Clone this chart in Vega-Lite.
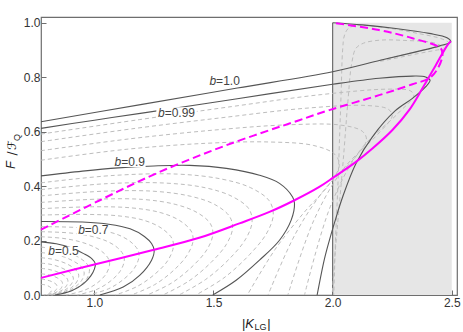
{
"$schema":"https://vega.github.io/schema/vega-lite/v6.json",
"width":416,"height":278,
"autosize":{"type":"none"},
"padding":{"left":41,"top":17,"right":6,"bottom":37},
"background":"white",
"config":{"view":{"stroke":"#6e6e6e","strokeWidth":1.2},"axis":{"domain":false,"grid":false,"title":null,"labelFont":"Liberation Sans","labelFontSize":12,"labelColor":"#333","tickColor":"#6e6e6e","tickSize":-5}},
"datasets":{
"shade":[{"k":2.0,"k2":2.5,"f":0,"f2":1.0}],
"vline":[{"k":2.0,"f":0,"f2":1.0}],
"solid":[
{"c":"b05","i":0,"k":0.776,"f":0.195},{"c":"b05","i":1,"k":0.84,"f":0.188},{"c":"b05","i":2,"k":0.90,"f":0.174},{"c":"b05","i":3,"k":0.955,"f":0.152},{"c":"b05","i":4,"k":0.99,"f":0.133},{"c":"b05","i":5,"k":1.004,"f":0.115},{"c":"b05","i":6,"k":1.0,"f":0.095},{"c":"b05","i":7,"k":0.985,"f":0.07},{"c":"b05","i":8,"k":0.955,"f":0.042},{"c":"b05","i":9,"k":0.905,"f":0.016},{"c":"b05","i":10,"k":0.835,"f":0},
{"c":"b07","i":0,"k":0.776,"f":0.270},{"c":"b07","i":1,"k":0.95,"f":0.268},{"c":"b07","i":2,"k":1.06,"f":0.26},{"c":"b07","i":3,"k":1.15,"f":0.243},{"c":"b07","i":4,"k":1.21,"f":0.215},{"c":"b07","i":5,"k":1.24,"f":0.189},{"c":"b07","i":6,"k":1.251,"f":0.164},{"c":"b07","i":7,"k":1.24,"f":0.128},{"c":"b07","i":8,"k":1.19,"f":0.072},{"c":"b07","i":9,"k":1.121,"f":0.029},{"c":"b07","i":10,"k":1.023,"f":0},
{"c":"b09","i":0,"k":0.776,"f":0.4375},{"c":"b09","i":1,"k":0.95,"f":0.455},{"c":"b09","i":2,"k":1.1,"f":0.467},{"c":"b09","i":3,"k":1.25,"f":0.474},{"c":"b09","i":4,"k":1.4,"f":0.476},{"c":"b09","i":5,"k":1.554,"f":0.465},{"c":"b09","i":6,"k":1.693,"f":0.44},{"c":"b09","i":7,"k":1.777,"f":0.41},{"c":"b09","i":8,"k":1.832,"f":0.36},{"c":"b09","i":9,"k":1.840,"f":0.336},{"c":"b09","i":10,"k":1.826,"f":0.275},{"c":"b09","i":11,"k":1.777,"f":0.201},{"c":"b09","i":12,"k":1.693,"f":0.128},{"c":"b09","i":13,"k":1.595,"f":0.054},{"c":"b09","i":14,"k":1.497,"f":0},
{"c":"b099","i":0,"k":0.776,"f":0.612},{"c":"b099","i":1,"k":1.0,"f":0.642},{"c":"b099","i":2,"k":1.2,"f":0.668},{"c":"b099","i":3,"k":1.6,"f":0.721},{"c":"b099","i":4,"k":2.0,"f":0.774},{"c":"b099","i":5,"k":2.195,"f":0.796},{"c":"b099","i":6,"k":2.335,"f":0.804},{"c":"b099","i":7,"k":2.39,"f":0.801},{"c":"b099","i":8,"k":2.409,"f":0.789},{"c":"b099","i":9,"k":2.391,"f":0.765},{"c":"b099","i":10,"k":2.335,"f":0.722},{"c":"b099","i":11,"k":2.262,"f":0.676},{"c":"b099","i":12,"k":2.167,"f":0.581},{"c":"b099","i":13,"k":2.098,"f":0.483},{"c":"b099","i":14,"k":2.042,"f":0.36},{"c":"b099","i":15,"k":2.007,"f":0.263},{"c":"b099","i":16,"k":1.986,"f":0.2},{"c":"b099","i":17,"k":1.965,"f":0.13},{"c":"b099","i":18,"k":1.935,"f":0},
{"c":"b10","i":0,"k":0.776,"f":0.636},{"c":"b10","i":1,"k":1.2,"f":0.7},{"c":"b10","i":2,"k":1.6,"f":0.76},{"c":"b10","i":3,"k":2.0,"f":0.82},{"c":"b10","i":4,"k":2.2,"f":0.862},{"c":"b10","i":5,"k":2.35,"f":0.893},{"c":"b10","i":6,"k":2.45,"f":0.915},{"c":"b10","i":7,"k":2.496,"f":0.930},{"c":"b10","i":8,"k":2.48,"f":0.945},{"c":"b10","i":9,"k":2.405,"f":0.961},{"c":"b10","i":10,"k":2.265,"f":0.979},{"c":"b10","i":11,"k":2.126,"f":0.992},{"c":"b10","i":12,"k":2.0,"f":1.0}
],
"msol":[
{"i":0,"k":0.776,"f":0.063},{"i":1,"k":1.0,"f":0.112},{"i":2,"k":1.25,"f":0.166},{"i":3,"k":1.44,"f":0.21},{"i":4,"k":1.609,"f":0.263},{"i":5,"k":1.735,"f":0.305},{"i":6,"k":1.840,"f":0.348},{"i":7,"k":1.944,"f":0.397},{"i":8,"k":2.007,"f":0.434},{"i":9,"k":2.098,"f":0.489},{"i":10,"k":2.167,"f":0.538},{"i":11,"k":2.251,"f":0.606},{"i":12,"k":2.321,"f":0.679},{"i":13,"k":2.377,"f":0.759},{"i":14,"k":2.433,"f":0.844},{"i":15,"k":2.482,"f":0.918},{"i":16,"k":2.496,"f":0.932}
],
"mdash":[
{"i":0,"k":0.776,"f":0.240},{"i":1,"k":1.023,"f":0.348},{"i":2,"k":1.274,"f":0.452},{"i":3,"k":1.554,"f":0.550},{"i":4,"k":1.860,"f":0.642},{"i":5,"k":1.986,"f":0.679},{"i":6,"k":2.195,"f":0.734},{"i":7,"k":2.335,"f":0.774},{"i":8,"k":2.405,"f":0.796},{"i":9,"k":2.44,"f":0.83},{"i":10,"k":2.461,"f":0.881},{"i":11,"k":2.454,"f":0.906},{"i":12,"k":2.335,"f":0.943},{"i":13,"k":2.195,"f":0.973},{"i":14,"k":2.0,"f":1.0}
],
"dash":[
{"c":"A9","i":0,"k":0.776,"f":0.176},{"c":"A9","i":1,"k":0.834,"f":0.169},{"c":"A9","i":2,"k":0.888,"f":0.157},{"c":"A9","i":3,"k":0.933,"f":0.139},{"c":"A9","i":4,"k":0.964,"f":0.119},{"c":"A9","i":5,"k":0.978,"f":0.101},{"c":"A9","i":6,"k":0.979,"f":0.086},{"c":"A9","i":7,"k":0.969,"f":0.061},{"c":"A9","i":8,"k":0.942,"f":0.036},{"c":"A9","i":9,"k":0.897,"f":0.014},{"c":"A9","i":10,"k":0.829,"f":0},
{"c":"A8","i":0,"k":0.776,"f":0.156},{"c":"A8","i":1,"k":0.827,"f":0.150},{"c":"A8","i":2,"k":0.875,"f":0.139},{"c":"A8","i":3,"k":0.915,"f":0.123},{"c":"A8","i":4,"k":0.943,"f":0.106},{"c":"A8","i":5,"k":0.955,"f":0.090},{"c":"A8","i":6,"k":0.957,"f":0.076},{"c":"A8","i":7,"k":0.947,"f":0.054},{"c":"A8","i":8,"k":0.923,"f":0.032},{"c":"A8","i":9,"k":0.883,"f":0.012},{"c":"A8","i":10,"k":0.823,"f":0},
{"c":"A7","i":0,"k":0.776,"f":0.137},{"c":"A7","i":1,"k":0.821,"f":0.132},{"c":"A7","i":2,"k":0.863,"f":0.122},{"c":"A7","i":3,"k":0.898,"f":0.108},{"c":"A7","i":4,"k":0.922,"f":0.092},{"c":"A7","i":5,"k":0.933,"f":0.078},{"c":"A7","i":6,"k":0.934,"f":0.067},{"c":"A7","i":7,"k":0.926,"f":0.048},{"c":"A7","i":8,"k":0.905,"f":0.028},{"c":"A7","i":9,"k":0.870,"f":0.011},{"c":"A7","i":10,"k":0.817,"f":0},
{"c":"A6","i":0,"k":0.776,"f":0.117},{"c":"A6","i":1,"k":0.814,"f":0.113},{"c":"A6","i":2,"k":0.850,"f":0.104},{"c":"A6","i":3,"k":0.880,"f":0.092},{"c":"A6","i":4,"k":0.901,"f":0.079},{"c":"A6","i":5,"k":0.910,"f":0.067},{"c":"A6","i":6,"k":0.912,"f":0.057},{"c":"A6","i":7,"k":0.904,"f":0.041},{"c":"A6","i":8,"k":0.886,"f":0.024},{"c":"A6","i":9,"k":0.856,"f":0.009},{"c":"A6","i":10,"k":0.811,"f":0},
{"c":"A5","i":0,"k":0.776,"f":0.098},{"c":"A5","i":1,"k":0.808,"f":0.094},{"c":"A5","i":2,"k":0.838,"f":0.087},{"c":"A5","i":3,"k":0.863,"f":0.077},{"c":"A5","i":4,"k":0.881,"f":0.066},{"c":"A5","i":5,"k":0.888,"f":0.056},{"c":"A5","i":6,"k":0.889,"f":0.048},{"c":"A5","i":7,"k":0.883,"f":0.034},{"c":"A5","i":8,"k":0.868,"f":0.020},{"c":"A5","i":9,"k":0.843,"f":0.008},{"c":"A5","i":10,"k":0.806,"f":0},
{"c":"A4","i":0,"k":0.776,"f":0.078},{"c":"A4","i":1,"k":0.802,"f":0.075},{"c":"A4","i":2,"k":0.826,"f":0.070},{"c":"A4","i":3,"k":0.846,"f":0.062},{"c":"A4","i":4,"k":0.860,"f":0.053},{"c":"A4","i":5,"k":0.866,"f":0.045},{"c":"A4","i":6,"k":0.866,"f":0.038},{"c":"A4","i":7,"k":0.862,"f":0.027},{"c":"A4","i":8,"k":0.850,"f":0.016},{"c":"A4","i":9,"k":0.830,"f":0.006},{"c":"A4","i":10,"k":0.800,"f":0},
{"c":"A3","i":0,"k":0.776,"f":0.059},{"c":"A3","i":1,"k":0.795,"f":0.056},{"c":"A3","i":2,"k":0.813,"f":0.052},{"c":"A3","i":3,"k":0.828,"f":0.046},{"c":"A3","i":4,"k":0.839,"f":0.040},{"c":"A3","i":5,"k":0.843,"f":0.034},{"c":"A3","i":6,"k":0.844,"f":0.029},{"c":"A3","i":7,"k":0.840,"f":0.020},{"c":"A3","i":8,"k":0.831,"f":0.012},{"c":"A3","i":9,"k":0.816,"f":0.005},{"c":"A3","i":10,"k":0.794,"f":0},
{"c":"A2","i":0,"k":0.776,"f":0.039},{"c":"A2","i":1,"k":0.789,"f":0.038},{"c":"A2","i":2,"k":0.801,"f":0.035},{"c":"A2","i":3,"k":0.811,"f":0.031},{"c":"A2","i":4,"k":0.818,"f":0.026},{"c":"A2","i":5,"k":0.821,"f":0.022},{"c":"A2","i":6,"k":0.821,"f":0.019},{"c":"A2","i":7,"k":0.819,"f":0.014},{"c":"A2","i":8,"k":0.813,"f":0.008},{"c":"A2","i":9,"k":0.803,"f":0.003},{"c":"A2","i":10,"k":0.788,"f":0},
{"c":"B1","i":0,"k":0.776,"f":0.214},{"c":"B1","i":1,"k":0.8675,"f":0.208},{"c":"B1","i":2,"k":0.94,"f":0.1955},{"c":"B1","i":3,"k":1.0,"f":0.176},{"c":"B1","i":4,"k":1.041,"f":0.153},{"c":"B1","i":5,"k":1.061,"f":0.129},{"c":"B1","i":6,"k":1.0635,"f":0.109},{"c":"B1","i":7,"k":1.049,"f":0.077},{"c":"B1","i":8,"k":1.014,"f":0.0455},{"c":"B1","i":9,"k":0.96,"f":0.018},{"c":"B1","i":10,"k":0.882,"f":0},
{"c":"B2","i":0,"k":0.776,"f":0.2325},{"c":"B2","i":1,"k":0.895,"f":0.228},{"c":"B2","i":2,"k":0.98,"f":0.217},{"c":"B2","i":3,"k":1.05,"f":0.1985},{"c":"B2","i":4,"k":1.0975,"f":0.1735},{"c":"B2","i":5,"k":1.1225,"f":0.146},{"c":"B2","i":6,"k":1.125,"f":0.1225},{"c":"B2","i":7,"k":1.1075,"f":0.0865},{"c":"B2","i":8,"k":1.0675,"f":0.051},{"c":"B2","i":9,"k":1.01,"f":0.0205},{"c":"B2","i":10,"k":0.929,"f":0},
{"c":"B3","i":0,"k":0.776,"f":0.251},{"c":"B3","i":1,"k":0.9225,"f":0.248},{"c":"B3","i":2,"k":1.02,"f":0.2385},{"c":"B3","i":3,"k":1.10,"f":0.221},{"c":"B3","i":4,"k":1.154,"f":0.194},{"c":"B3","i":5,"k":1.184,"f":0.163},{"c":"B3","i":6,"k":1.1865,"f":0.136},{"c":"B3","i":7,"k":1.166,"f":0.096},{"c":"B3","i":8,"k":1.121,"f":0.0565},{"c":"B3","i":9,"k":1.06,"f":0.023},{"c":"B3","i":10,"k":0.976,"f":0},
{"c":"C1","i":0,"k":0.776,"f":0.2935},{"c":"C1","i":1,"k":0.971,"f":0.296},{"c":"C1","i":2,"k":1.108,"f":0.290},{"c":"C1","i":3,"k":1.213,"f":0.273},{"c":"C1","i":4,"k":1.284,"f":0.244},{"c":"C1","i":5,"k":1.326,"f":0.207},{"c":"C1","i":6,"k":1.331,"f":0.174},{"c":"C1","i":7,"k":1.307,"f":0.125},{"c":"C1","i":8,"k":1.253,"f":0.076},{"c":"C1","i":9,"k":1.181,"f":0.032},{"c":"C1","i":10,"k":1.089,"f":0},
{"c":"C2","i":0,"k":0.776,"f":0.317},{"c":"C2","i":1,"k":0.992,"f":0.324},{"c":"C2","i":2,"k":1.155,"f":0.320},{"c":"C2","i":3,"k":1.276,"f":0.303},{"c":"C2","i":4,"k":1.357,"f":0.274},{"c":"C2","i":5,"k":1.406,"f":0.235},{"c":"C2","i":6,"k":1.414,"f":0.198},{"c":"C2","i":7,"k":1.389,"f":0.146},{"c":"C2","i":8,"k":1.332,"f":0.090},{"c":"C2","i":9,"k":1.253,"f":0.038},{"c":"C2","i":10,"k":1.156,"f":0},
{"c":"C3","i":0,"k":0.776,"f":0.340},{"c":"C3","i":1,"k":1.013,"f":0.352},{"c":"C3","i":2,"k":1.203,"f":0.351},{"c":"C3","i":3,"k":1.339,"f":0.333},{"c":"C3","i":4,"k":1.431,"f":0.303},{"c":"C3","i":5,"k":1.487,"f":0.262},{"c":"C3","i":6,"k":1.497,"f":0.221},{"c":"C3","i":7,"k":1.472,"f":0.166},{"c":"C3","i":8,"k":1.410,"f":0.104},{"c":"C3","i":9,"k":1.324,"f":0.044},{"c":"C3","i":10,"k":1.222,"f":0},
{"c":"C4","i":0,"k":0.776,"f":0.364},{"c":"C4","i":1,"k":1.034,"f":0.381},{"c":"C4","i":2,"k":1.250,"f":0.381},{"c":"C4","i":3,"k":1.402,"f":0.363},{"c":"C4","i":4,"k":1.504,"f":0.333},{"c":"C4","i":5,"k":1.567,"f":0.289},{"c":"C4","i":6,"k":1.580,"f":0.245},{"c":"C4","i":7,"k":1.554,"f":0.186},{"c":"C4","i":8,"k":1.489,"f":0.119},{"c":"C4","i":9,"k":1.396,"f":0.051},{"c":"C4","i":10,"k":1.288,"f":0},
{"c":"C5","i":0,"k":0.776,"f":0.387},{"c":"C5","i":1,"k":1.055,"f":0.409},{"c":"C5","i":2,"k":1.298,"f":0.411},{"c":"C5","i":3,"k":1.465,"f":0.394},{"c":"C5","i":4,"k":1.578,"f":0.362},{"c":"C5","i":5,"k":1.648,"f":0.317},{"c":"C5","i":6,"k":1.662,"f":0.269},{"c":"C5","i":7,"k":1.636,"f":0.207},{"c":"C5","i":8,"k":1.567,"f":0.133},{"c":"C5","i":9,"k":1.467,"f":0.057},{"c":"C5","i":10,"k":1.355,"f":0},
{"c":"C6","i":0,"k":0.776,"f":0.412},{"c":"C6","i":1,"k":1.078,"f":0.439},{"c":"C6","i":2,"k":1.349,"f":0.444},{"c":"C6","i":3,"k":1.533,"f":0.426},{"c":"C6","i":4,"k":1.656,"f":0.394},{"c":"C6","i":5,"k":1.734,"f":0.346},{"c":"C6","i":6,"k":1.751,"f":0.295},{"c":"C6","i":7,"k":1.724,"f":0.228},{"c":"C6","i":8,"k":1.651,"f":0.148},{"c":"C6","i":9,"k":1.544,"f":0.063},{"c":"C6","i":10,"k":1.426,"f":0},
{"c":"D1","i":0,"k":0.776,"f":0.495},{"c":"D1","i":1,"k":1.133,"f":0.535},{"c":"D1","i":2,"k":1.466,"f":0.557},{"c":"D1","i":3,"k":1.732,"f":0.562},{"c":"D1","i":4,"k":1.921,"f":0.549},{"c":"D1","i":5,"k":2.010,"f":0.516},{"c":"D1","i":6,"k":2.028,"f":0.475},{"c":"D1","i":7,"k":1.985,"f":0.406},{"c":"D1","i":8,"k":1.878,"f":0.301},{"c":"D1","i":9,"k":1.759,"f":0.168},{"c":"D1","i":10,"k":1.642,"f":0},
{"c":"D2","i":0,"k":0.776,"f":0.530},{"c":"D2","i":1,"k":1.153,"f":0.574},{"c":"D2","i":2,"k":1.506,"f":0.606},{"c":"D2","i":3,"k":1.812,"f":0.625},{"c":"D2","i":4,"k":2.034,"f":0.624},{"c":"D2","i":5,"k":2.125,"f":0.601},{"c":"D2","i":6,"k":2.142,"f":0.569},{"c":"D2","i":7,"k":2.089,"f":0.500},{"c":"D2","i":8,"k":1.964,"f":0.385},{"c":"D2","i":9,"k":1.844,"f":0.225},{"c":"D2","i":10,"k":1.729,"f":0},
{"c":"D3","i":0,"k":0.776,"f":0.563},{"c":"D3","i":1,"k":1.172,"f":0.612},{"c":"D3","i":2,"k":1.544,"f":0.652},{"c":"D3","i":3,"k":1.888,"f":0.686},{"c":"D3","i":4,"k":2.142,"f":0.696},{"c":"D3","i":5,"k":2.234,"f":0.682},{"c":"D3","i":6,"k":2.250,"f":0.658},{"c":"D3","i":7,"k":2.189,"f":0.590},{"c":"D3","i":8,"k":2.046,"f":0.464},{"c":"D3","i":9,"k":1.924,"f":0.280},{"c":"D3","i":10,"k":1.812,"f":0},
{"c":"D4","i":0,"k":0.776,"f":0.591},{"c":"D4","i":1,"k":1.188,"f":0.644},{"c":"D4","i":2,"k":1.576,"f":0.692},{"c":"D4","i":3,"k":1.952,"f":0.736},{"c":"D4","i":4,"k":2.232,"f":0.756},{"c":"D4","i":5,"k":2.326,"f":0.750},{"c":"D4","i":6,"k":2.341,"f":0.733},{"c":"D4","i":7,"k":2.272,"f":0.665},{"c":"D4","i":8,"k":2.115,"f":0.531},{"c":"D4","i":9,"k":1.991,"f":0.326},{"c":"D4","i":10,"k":1.882,"f":0},
{"c":"E1","i":0,"k":2.2,"f":0.862},{"c":"E1","i":1,"k":2.35,"f":0.893},{"c":"E1","i":2,"k":2.45,"f":0.913},{"c":"E1","i":3,"k":2.488,"f":0.925},{"c":"E1","i":4,"k":2.46,"f":0.94},{"c":"E1","i":5,"k":2.35,"f":0.962},{"c":"E1","i":6,"k":2.22,"f":0.982},{"c":"E1","i":7,"k":2.12,"f":0.99},{"c":"E1","i":8,"k":2.07,"f":0.982},{"c":"E1","i":9,"k":2.05,"f":0.955},{"c":"E1","i":10,"k":2.042,"f":0.9},{"c":"E1","i":11,"k":2.036,"f":0.75},{"c":"E1","i":12,"k":2.03,"f":0.6},{"c":"E1","i":13,"k":2.022,"f":0.4},{"c":"E1","i":14,"k":2.012,"f":0.2},{"c":"E1","i":15,"k":2.005,"f":0},
{"c":"E2","i":0,"k":2.2,"f":0.858},{"c":"E2","i":1,"k":2.35,"f":0.885},{"c":"E2","i":2,"k":2.44,"f":0.9},{"c":"E2","i":3,"k":2.47,"f":0.905},{"c":"E2","i":4,"k":2.43,"f":0.925},{"c":"E2","i":5,"k":2.3,"f":0.935},{"c":"E2","i":6,"k":2.2,"f":0.936},{"c":"E2","i":7,"k":2.13,"f":0.925},{"c":"E2","i":8,"k":2.098,"f":0.906},{"c":"E2","i":9,"k":2.08,"f":0.85},{"c":"E2","i":10,"k":2.064,"f":0.71},{"c":"E2","i":11,"k":2.045,"f":0.5},{"c":"E2","i":12,"k":2.025,"f":0.3},{"c":"E2","i":13,"k":2.01,"f":0.15},{"c":"E2","i":14,"k":1.998,"f":0}
],
"lblbox":[
{"k":1.48,"k2":1.615,"f":0.772,"f2":0.80},
{"k":1.26,"k2":1.43,"f":0.65,"f2":0.69},
{"k":1.08,"k2":1.215,"f":0.47,"f2":0.508},
{"k":0.925,"k2":1.065,"f":0.22,"f2":0.256},
{"k":0.80,"k2":0.93,"f":0.142,"f2":0.178}
],
"lbl":[
{"k":1.511,"f":0.786,"lv":"=1.0"},
{"k":1.295,"f":0.670,"lv":"=0.99"},
{"k":1.113,"f":0.489,"lv":"=0.9"},
{"k":0.960,"f":0.238,"lv":"=0.7"},
{"k":0.835,"f":0.160,"lv":"=0.5"}
],
"tnorm":[{"k":1.620,"f":-0.108,"t":"|"},{"k":1.726,"f":-0.108,"t":"|"}],
"titK":[{"k":1.633,"f":-0.108,"t":"K"}],
"tsub":[{"k":1.672,"f":-0.116,"t":"LG"}],
"yF":[{"k":0.650,"f":0.477,"t":"F"}],
"ymid":[{"k":0.653,"f":0.520,"t":"/"},{"k":0.653,"f":0.550,"t":"ℱ"}],
"ysub":[{"k":0.675,"f":0.578,"t":"Q"}]
},
"encoding":{
"x":{"field":"k","type":"quantitative","scale":{"domain":[0.776,2.522],"nice":false,"zero":false},"axis":{"values":[1,1.5,2,2.5],"format":".1f","labelPadding":7}},
"y":{"field":"f","type":"quantitative","scale":{"domain":[0,1.021],"nice":false,"zero":false},"axis":{"values":[0,0.2,0.4,0.6,0.8,1],"format":".1f","labelPadding":6}}
},
"layer":[
{"data":{"name":"shade"},"mark":{"type":"rect","color":"#e6e6e6"},"encoding":{"x2":{"field":"k2"},"y2":{"field":"f2"}}},
{"data":{"name":"vline"},"mark":{"type":"rule","color":"#6e6e6e","strokeWidth":1.2},"encoding":{"y2":{"field":"f2"}}},
{"data":{"name":"dash"},"mark":{"type":"line","color":"#bdbdbd","strokeWidth":1,"strokeDash":[4,3],"interpolate":"catmull-rom"},"encoding":{"detail":{"field":"c"},"order":{"field":"i","type":"quantitative"}}},
{"data":{"name":"solid"},"mark":{"type":"line","color":"#555555","strokeWidth":1.1,"interpolate":"catmull-rom"},"encoding":{"detail":{"field":"c"},"order":{"field":"i","type":"quantitative"}}},
{"data":{"name":"mdash"},"mark":{"type":"line","color":"#ff00ff","strokeWidth":2,"strokeDash":[8,4],"interpolate":"catmull-rom"},"encoding":{"order":{"field":"i","type":"quantitative"}}},
{"data":{"name":"msol"},"mark":{"type":"line","color":"#ff00ff","strokeWidth":2,"interpolate":"catmull-rom"},"encoding":{"order":{"field":"i","type":"quantitative"}}},
{"data":{"name":"lblbox"},"mark":{"type":"rect","color":"white"},"encoding":{"x2":{"field":"k2"},"y2":{"field":"f2"}}},
{"data":{"name":"lbl"},"mark":{"type":"text","font":"Liberation Sans","fontSize":12,"fontStyle":"italic","align":"right","baseline":"middle","color":"#444"},"encoding":{"text":{"value":"b"}}},
{"data":{"name":"lbl"},"mark":{"type":"text","font":"Liberation Sans","fontSize":12,"align":"left","baseline":"middle","color":"#444"},"encoding":{"text":{"field":"lv"}}},
{"data":{"name":"tnorm"},"mark":{"type":"text","font":"Liberation Sans","fontSize":13,"align":"left","baseline":"middle","color":"#222"},"encoding":{"text":{"field":"t"}}},
{"data":{"name":"titK"},"mark":{"type":"text","font":"Liberation Sans","fontSize":13,"fontStyle":"italic","align":"left","baseline":"middle","color":"#222"},"encoding":{"text":{"field":"t"}}},
{"data":{"name":"tsub"},"mark":{"type":"text","font":"Liberation Sans","fontSize":9,"align":"left","baseline":"middle","color":"#222"},"encoding":{"text":{"field":"t"}}},
{"data":{"name":"yF"},"mark":{"type":"text","font":"Liberation Sans","fontSize":13,"fontStyle":"italic","align":"center","baseline":"middle","angle":270,"color":"#222"},"encoding":{"text":{"field":"t"}}},
{"data":{"name":"ymid"},"mark":{"type":"text","font":"DejaVu Sans","fontSize":12,"align":"center","baseline":"middle","angle":270,"color":"#222"},"encoding":{"text":{"field":"t"}}},
{"data":{"name":"ysub"},"mark":{"type":"text","font":"Liberation Sans","fontSize":9,"align":"center","baseline":"middle","angle":270,"color":"#222"},"encoding":{"text":{"field":"t"}}}
]
}
